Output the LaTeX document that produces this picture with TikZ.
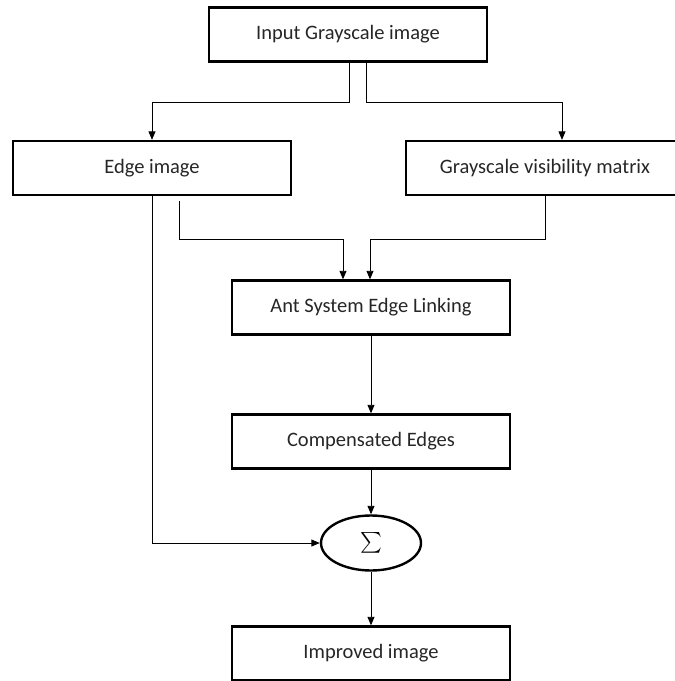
\documentclass[tikz,border=0pt]{standalone}
\usepackage{amsmath}
\usepackage{fontspec}
\setmainfont{Carlito}
\usetikzlibrary{arrows.meta,shapes.geometric}

\tikzset{
  block/.style={draw, line width=2.4pt, minimum width=278pt, minimum height=54pt, inner sep=0pt, font=\fontsize{20.5}{24}\selectfont, text=black!85},
  sumnode/.style={draw, ellipse, line width=2.4pt, minimum width=100pt, minimum height=55pt, inner sep=0pt, font=\fontsize{20}{24}\selectfont},
  arr/.style={line width=0.9pt, -{Triangle[width=7pt,length=8.5pt]}}
}

\begin{document}
\begin{tikzpicture}[x=1pt, y=-1pt]
    \useasboundingbox (0,0) rectangle (675,681);

    % Place the blocks
    \node[block] (input) at (348,34.5) {Input Grayscale image};
    \node[block] (edge) at (152,168) {Edge image};
    \node[block] (gvm) at (545,168) {Grayscale visibility matrix};
    \node[block] (ant) at (371,307.5) {Ant System Edge Linking};
    \node[block] (comp) at (371,441.5) {Compensated Edges};
    \node[sumnode] (sum) at (371,543) {$\sum$};
    \node[block] (improved) at (371,653.5) {Improved image};

    % Draw the branches from the input
    \draw[arr] ([xshift=1pt]input.south) -- ++(0,40) -| (edge.north);
    \draw[arr] ([xshift=18pt]input.south) -- ++(0,40) -| ([xshift=17pt]gvm.north);

    % Draw the paths into the linking block
    \draw[arr] ([xshift=27pt,yshift=-5pt]edge.south) -- ++(0,38) -| ([xshift=-28pt]ant.north);
    \draw[arr] (gvm.south) -- ++(0,43) -| ([xshift=-1pt]ant.north);

    % Draw the main chain
    \draw[arr] (ant) -- (comp);
    \draw[arr] (comp) -- (sum);
    \draw[arr] (sum) -- (improved);
    \draw[arr] (edge.south) |- (sum.west);

\end{tikzpicture}
\end{document}
